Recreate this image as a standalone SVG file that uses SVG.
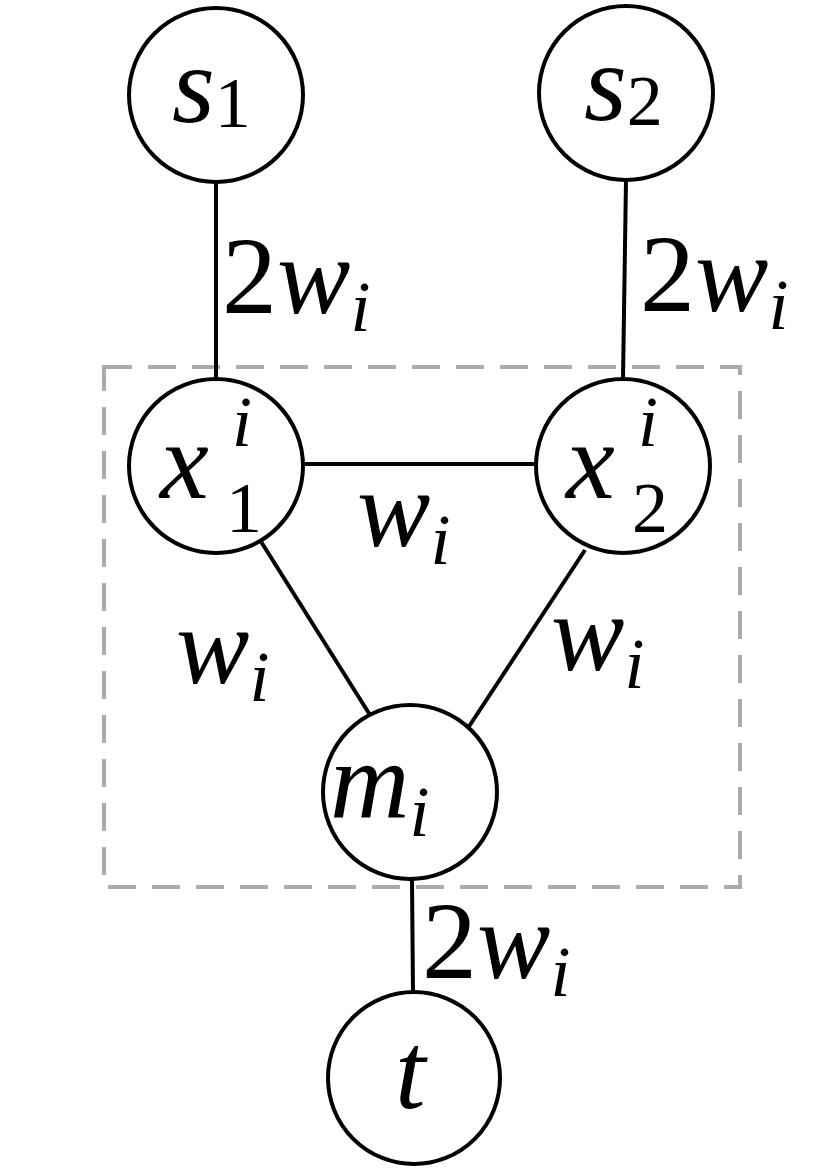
<svg xmlns="http://www.w3.org/2000/svg" width="829" height="1175" viewBox="0 0 829 1175">
<style>
.n{fill:#fff;stroke:#000;stroke-width:4}
.e{stroke:#000;stroke-width:4;fill:none}
.t{font-family:'Liberation Serif','DejaVu Serif','Times New Roman',serif;font-style:italic;font-size:110px;fill:#000}
.r{font-style:normal}
.s{font-size:72px}
</style>
<rect x="0" y="0" width="829" height="1175" fill="#fff"/>
<rect x="104" y="367" width="636" height="520" fill="none" stroke="#aaa" stroke-width="4" stroke-dasharray="28 16"/>
<g id="connectors">
<line class="e" x1="216" y1="182" x2="216" y2="379"/>
<line class="e" x1="626" y1="180" x2="623" y2="379"/>
<line class="e" x1="303" y1="464" x2="536" y2="464"/>
<line class="e" x1="260" y1="540" x2="370" y2="715"/>
<line class="e" x1="585" y1="550" x2="468" y2="728"/>
<line class="e" x1="412" y1="880" x2="413" y2="993"/>
</g>
<g id="labels">
<text class="t" x="222" y="313"><tspan class="r">2</tspan>w<tspan class="s" dy="18">i</tspan></text>
<text class="t" x="640" y="311"><tspan class="r">2</tspan>w<tspan class="s" dy="18">i</tspan></text>
<text class="t" x="357" y="546">w<tspan class="s" dy="18">i</tspan></text>
<text class="t" x="176" y="683">w<tspan class="s" dy="18">i</tspan></text>
<text class="t" x="551" y="670">w<tspan class="s" dy="18">i</tspan></text>
<text class="t" x="422" y="978"><tspan class="r">2</tspan>w<tspan class="s" dy="18">i</tspan></text>
</g>
<g id="s1"><circle class="n" cx="216" cy="95" r="87"/><text class="t" x="172" y="122">s<tspan class="r s" dy="5">1</tspan></text></g>
<g id="s2"><circle class="n" cx="626" cy="93" r="87"/><text class="t" x="584" y="120">s<tspan class="r s" dy="5">2</tspan></text></g>
<g id="x1"><circle class="n" cx="216" cy="466" r="87"/><text class="t" x="160" y="498">x</text><text class="t s" x="232" y="446">i</text><text class="t s r" x="226" y="532">1</text></g>
<g id="x2"><circle class="n" cx="623" cy="466" r="87"/><text class="t" x="566" y="498">x</text><text class="t s" x="638" y="446">i</text><text class="t s r" x="632" y="532">2</text></g>
<g id="m"><circle class="n" cx="410" cy="792" r="87"/><text class="t" x="330" y="818">m<tspan class="s" dy="18">i</tspan></text></g>
<g id="t"><circle class="n" cx="414" cy="1078" r="86"/><text class="t" x="395" y="1108">t</text></g>
</svg>
